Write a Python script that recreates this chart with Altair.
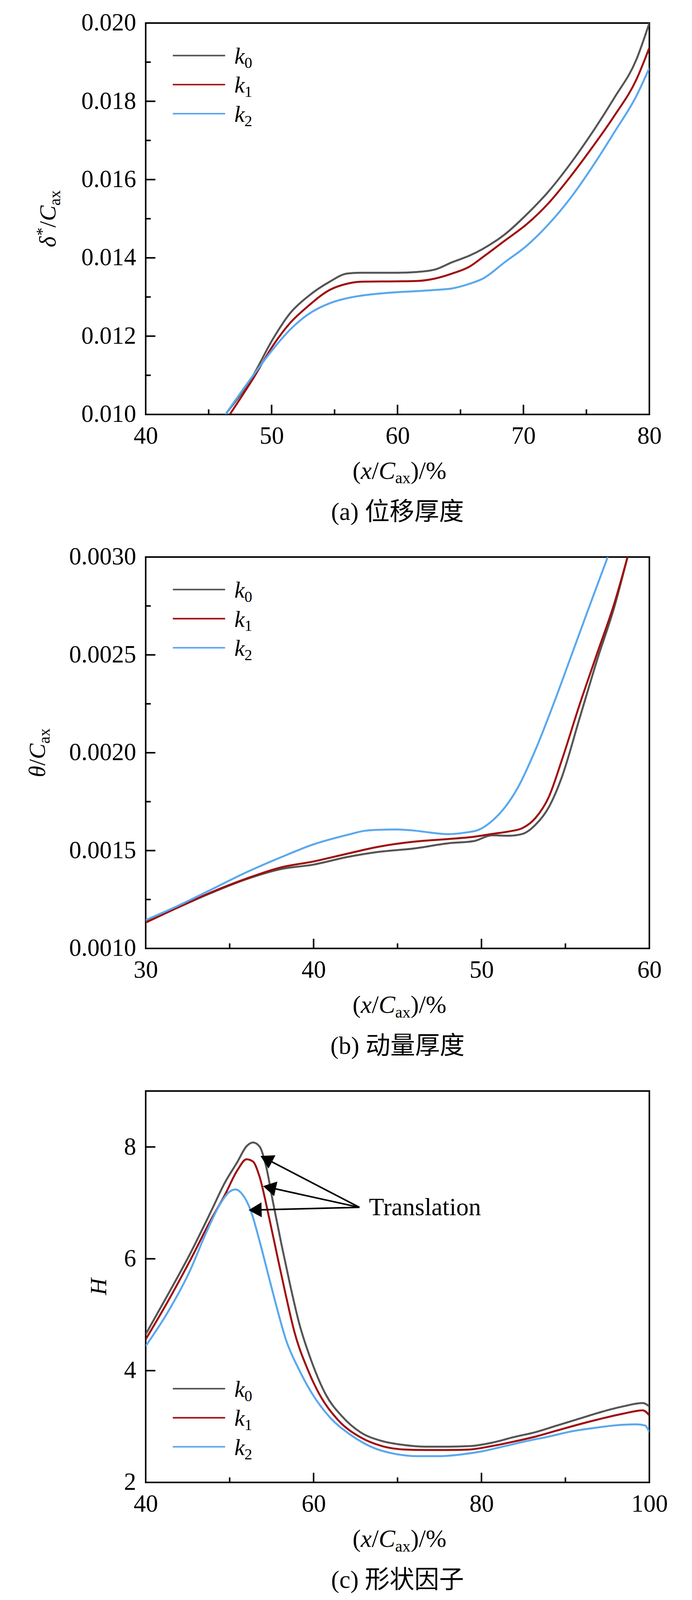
import math
import altair as alt
import pandas as pd

SERIF = "Liberation Serif, Times New Roman, serif"
CJK_FONT = "Liberation Serif, Noto Sans CJK SC"
PW, PH = 1300, 1010
TOP_EXT, BOT_EXT, LEFT_EXT, RIGHT_EXT = 32, 285, 320, 94
GAP = 362  # distance from one plot's bottom edge to the next plot's top edge
XTITLE_OFF, CAPTION_OFF = 166, 272

SERIES = ["k0", "k1", "k2"]
SUBS = ["0", "1", "2"]
COLORS = ["#555555", "#a00e0e", "#5aa8ee"]

# ---------------- panel (a): displacement thickness ----------------
a_k0_x = [46.33, 48.52, 50.09, 51.48, 52.87, 54.61, 56.0, 57.04, 59.83, 61.57, 62.96, 64.35, 65.74, 66.78,
          68.52, 70.26, 72.0, 73.74, 75.48, 77.22, 78.96, 80.0]
a_k0_y = [0.0100, 0.01099, 0.01192, 0.01259, 0.01301, 0.01339, 0.01360, 0.01362, 0.01362, 0.01364, 0.01370,
          0.01389, 0.01406, 0.01423, 0.01460, 0.01511, 0.01570, 0.01641, 0.01721, 0.01809, 0.01906, 0.02000]
a_k1_x = [46.68, 48.52, 50.09, 51.48, 52.87, 54.61, 56.0, 57.04, 59.83, 61.57, 62.96, 64.35, 65.74, 66.78,
          68.52, 70.26, 72.0, 73.74, 75.48, 77.22, 78.96, 80.0]
a_k1_y = [0.0100, 0.01091, 0.01175, 0.01234, 0.01276, 0.01318, 0.01334, 0.01339, 0.01340, 0.01341, 0.01347,
          0.01360, 0.01378, 0.01402, 0.01444, 0.01486, 0.01540, 0.01608, 0.01683, 0.01763, 0.01855, 0.01937]
a_k2_x = [46.33, 48.52, 50.09, 51.48, 52.87, 54.61, 56.0, 57.04, 59.83, 61.57, 62.96, 64.35, 65.74, 66.78,
          68.52, 70.26, 72.0, 73.74, 75.48, 77.22, 78.96, 80.0]
a_k2_y = [0.0100, 0.01099, 0.01166, 0.01217, 0.01255, 0.01284, 0.01297, 0.01303, 0.01312, 0.01315, 0.01318,
          0.01322, 0.01334, 0.01347, 0.01389, 0.01431, 0.01486, 0.01553, 0.01633, 0.01721, 0.01813, 0.01885]

# ---------------- panel (b): momentum thickness ----------------
b_k0_x = [30, 31.83, 33.91, 36.0, 38.09, 39.97, 42.0, 43.83, 45.91, 48.0, 49.57, 50.61, 51.65, 52.44,
          53.22, 54.0, 54.79, 55.83, 56.87, 57.92, 58.70]
b_k0_y = [0.001136, 0.001206, 0.001284, 0.001354, 0.001406, 0.001428, 0.001467, 0.001493, 0.001510,
          0.001537, 0.001549, 0.001578, 0.001576, 0.001585, 0.001632, 0.001720, 0.001876, 0.002172,
          0.002469, 0.002747, 0.003000]
b_k1_x = [30, 31.83, 33.91, 36.0, 38.09, 39.97, 42.0, 43.83, 45.91, 48.0, 49.57, 50.61, 51.65, 52.44,
          53.22, 54.0, 54.79, 55.83, 56.87, 57.92, 58.70]
b_k1_y = [0.001132, 0.001206, 0.001287, 0.001357, 0.001415, 0.001444, 0.001484, 0.001519, 0.001545,
          0.001559, 0.001571, 0.001585, 0.001598, 0.001615, 0.001667, 0.001772, 0.001963, 0.002242,
          0.002503, 0.002765, 0.003000]
b_k2_x = [30, 31.83, 33.91, 36.0, 38.09, 39.97, 42.0, 43.04, 43.83, 44.87, 45.91, 46.96, 48.0, 49.04,
          49.83, 50.61, 51.39, 52.18, 53.22, 54.26, 55.31, 56.35, 57.52]
b_k2_y = [0.001145, 0.001214, 0.001301, 0.001389, 0.001467, 0.001531, 0.001580, 0.001601, 0.001606,
          0.001608, 0.001603, 0.001592, 0.001584, 0.001592, 0.001606, 0.001650, 0.001720, 0.001824,
          0.002016, 0.002242, 0.002486, 0.002730, 0.003000]

# ---------------- panel (c): shape factor ----------------
c_k0_x = [40, 42.61, 45.22, 47.82, 49.39, 50.95, 52.0, 52.78, 53.56, 54.35, 55.13, 56.17, 57.21, 58.26,
          59.82, 61.39, 63.47, 65.56, 68.17, 70.78, 73.39, 75.99, 78.60, 81.21, 83.82, 86.43, 89.03,
          91.64, 94.25, 96.86, 99.22, 100]
c_k0_y = [4.65, 5.35, 6.07, 6.86, 7.35, 7.74, 8.01, 8.08, 8.01, 7.65, 7.04, 6.26, 5.53, 4.86, 4.14, 3.59,
          3.17, 2.90, 2.74, 2.67, 2.64, 2.64, 2.65, 2.71, 2.81, 2.90, 3.02, 3.14, 3.26, 3.36, 3.42, 3.36]
c_k1_x = [40, 42.61, 45.22, 47.82, 49.39, 50.95, 52.0, 52.78, 53.56, 54.61, 55.65, 56.69, 57.74, 59.30,
          60.87, 62.95, 65.56, 68.17, 70.78, 73.39, 75.99, 78.60, 81.21, 83.82, 86.43, 89.03, 91.64,
          94.25, 96.86, 99.22, 100]
c_k1_y = [4.56, 5.23, 5.95, 6.71, 7.13, 7.59, 7.78, 7.74, 7.47, 6.80, 6.07, 5.35, 4.68, 4.02, 3.53, 3.11,
          2.81, 2.65, 2.59, 2.58, 2.58, 2.59, 2.65, 2.73, 2.82, 2.93, 3.04, 3.14, 3.23, 3.29, 3.20]
c_k2_x = [40, 42.61, 45.22, 47.30, 48.87, 49.91, 50.69, 51.48, 52.52, 53.56, 54.61, 55.65, 56.69, 58.26,
          59.82, 61.91, 64.52, 67.13, 69.73, 72.34, 74.95, 77.56, 80.17, 82.78, 85.38, 87.99, 90.60,
          93.21, 95.82, 98.43, 99.47, 100]
c_k2_y = [4.44, 5.04, 5.77, 6.50, 6.98, 7.19, 7.24, 7.16, 6.86, 6.32, 5.71, 5.11, 4.56, 4.02, 3.59, 3.17,
          2.84, 2.62, 2.51, 2.47, 2.47, 2.50, 2.56, 2.65, 2.74, 2.82, 2.91, 2.97, 3.02, 3.04, 3.02, 2.90]

# annotation arrows (panel c)
ARROW_TAIL_X = 65.46
ARROW_TAIL_Y = 6.92
ARROW_TIP_X = [53.67, 53.98, 52.26]
ARROW_TIP_Y = [7.84, 7.30, 6.87]
ANNOT_TEXT = "Translation"
ANNOT_X = 66.6
ANNOT_Y = 6.78

ONE = pd.DataFrame({"a": [1]})

ADV = {"(": .333, ")": .333, "/": .278, "%": .833, "C": .667, "a": .444, "x": .5,
       "δ": .5, "θ": .5, "*": .5, "H": .722, "k": .444}


def tw(text, size, italic):
    w = 0
    for ch in text:
        v = ADV.get(ch, .5)
        if italic and ch == "x":
            v = .444
        w += v
    return w * size


def txt(text, x, y, size, italic=False, angle=0, align="left", font=SERIF):
    return alt.Chart(ONE).mark_text(
        text=text, font=font, fontSize=size, fontStyle="italic" if italic else "normal",
        align=align, baseline="alphabetic", angle=angle, color="black"
    ).encode(x=alt.value(x), y=alt.value(y))


def rich(pieces, cx, cy, rotate=False):
    widths = [tw(t, s, it) for t, s, it, sh in pieces]
    total = sum(widths)
    out = []
    cum = 0.0
    for (t, s, it, sh), w in zip(pieces, widths):
        if rotate:
            out.append(txt(t, cx + sh, cy + total / 2 - cum, s, it, angle=270))
        else:
            out.append(txt(t, cx - total / 2 + cum, cy + sh, s, it))
        cum += w
    return out


AX_COMMON = dict(ticks=False, tickSize=0, domain=False, grid=False, labelFont=SERIF,
                 labelFontSize=63, labelColor="black", labelPadding=25, title=None,
                 labelOverlap=False, labelFlush=False, labelLimit=400)


def make_axis(vals, fmt):
    return alt.Axis(values=vals, format=fmt, **AX_COMMON)


def lines_layer(xs_list, ys_list, xs, ys, xax, yax):
    rows = []
    for name, xx, yy in zip(SERIES, xs_list, ys_list):
        for a, b in zip(xx, yy):
            rows.append({"series": name, "x": a, "y": b})
    df = pd.DataFrame(rows)
    return alt.Chart(df).mark_line(interpolate="monotone", strokeWidth=5, clip=True).encode(
        x=alt.X("x:Q", scale=xs, axis=xax),
        y=alt.Y("y:Q", scale=ys, axis=yax),
        color=alt.Color("series:N", scale=alt.Scale(domain=SERIES, range=COLORS), legend=None),
    )


def yticks(vals, length, ys, yax):
    return alt.Chart(pd.DataFrame({"v": vals})).mark_rule(color="black", strokeWidth=4).encode(
        y=alt.Y("v:Q", scale=ys, axis=yax), x=alt.value(0), x2=alt.value(length))


def xticks(vals, length, xs, xax):
    return alt.Chart(pd.DataFrame({"v": vals})).mark_rule(color="black", strokeWidth=4).encode(
        x=alt.X("v:Q", scale=xs, axis=xax), y=alt.value(PH), y2=alt.value(PH - length))


def legend_layers(top):
    out = []
    for i, (c, s) in enumerate(zip(COLORS, SUBS)):
        ly = top + 75 * i
        out.append(alt.Chart(ONE).mark_rule(color=c, strokeWidth=4).encode(
            x=alt.value(70), x2=alt.value(205), y=alt.value(ly)))
        out.append(txt("k", 229, ly + 21, 60, italic=True))
        out.append(txt(s, 255, ly + 32, 40))
    return out


def frame_extent():
    # white (invisible) guides that give every panel the same outer extent,
    # so the stacked plot areas line up
    out = []
    for xv in (-LEFT_EXT, PW + RIGHT_EXT):
        out.append(alt.Chart(ONE).mark_rule(color="white", strokeWidth=1).encode(
            x=alt.value(xv), y=alt.value(-TOP_EXT), y2=alt.value(PH + BOT_EXT)))
    return out


def xtitle_layers():
    pieces = [("(", 64, False, 0), ("x", 64, True, 0), ("/", 64, False, 0), ("C", 64, True, 0),
              ("ax", 42, False, 12), (")/%", 64, False, 0)]
    return rich(pieces, PW / 2 + 5, PH + XTITLE_OFF)


def caption(text):
    return txt(text, PW / 2, PH + CAPTION_OFF, 64, align="center", font=CJK_FONT)


# ---------- panel a ----------
xa = alt.Scale(domain=[40, 80], nice=False, zero=False)
ya = alt.Scale(domain=[0.010, 0.020], nice=False, zero=False)
xa_ax = make_axis([40, 50, 60, 70, 80], "d")
ya_ax = make_axis([0.010, 0.012, 0.014, 0.016, 0.018, 0.020], ".3f")
pa_layers = frame_extent() + [
    lines_layer([a_k0_x, a_k1_x, a_k2_x], [a_k0_y, a_k1_y, a_k2_y], xa, ya, xa_ax, ya_ax),
    yticks([0.012, 0.014, 0.016, 0.018], 25, ya, ya_ax),
    yticks([0.011, 0.013, 0.015, 0.017, 0.019], 13, ya, ya_ax),
    xticks([50, 60, 70], 25, xa, xa_ax),
    xticks([45, 55, 65, 75], 13, xa, xa_ax),
] + legend_layers(84) + xtitle_layers() + [caption("(a) 位移厚度")] + rich(
    [("δ", 60, True, 0), ("*", 42, False, -20), ("/", 60, False, 0), ("C", 60, True, 0),
     ("ax", 42, False, 12)], -233, PH / 2, rotate=True)
pa = alt.layer(*pa_layers).properties(width=PW, height=PH)

# ---------- panel b ----------
xb = alt.Scale(domain=[30, 60], nice=False, zero=False)
yb = alt.Scale(domain=[0.0010, 0.0030], nice=False, zero=False)
xb_ax = make_axis([30, 40, 50, 60], "d")
yb_ax = make_axis([0.0010, 0.0015, 0.0020, 0.0025, 0.0030], ".4f")
pb_layers = frame_extent() + [
    lines_layer([b_k0_x, b_k1_x, b_k2_x], [b_k0_y, b_k1_y, b_k2_y], xb, yb, xb_ax, yb_ax),
    yticks([0.0015, 0.0020, 0.0025], 25, yb, yb_ax),
    yticks([0.00125, 0.00175, 0.00225, 0.00275], 13, yb, yb_ax),
    xticks([40, 50], 25, xb, xb_ax),
    xticks([35, 45, 55], 13, xb, xb_ax),
] + legend_layers(84) + xtitle_layers() + [caption("(b) 动量厚度")] + rich(
    [("θ", 60, True, 0), ("/", 60, False, 0), ("C", 60, True, 0), ("ax", 42, False, 12)],
    -260, PH / 2, rotate=True)
pb = alt.layer(*pb_layers).properties(width=PW, height=PH)

# ---------- panel c ----------
XC0, XC1, YC0, YC1 = 40, 100, 2, 9
xc = alt.Scale(domain=[XC0, XC1], nice=False, zero=False)
yc = alt.Scale(domain=[YC0, YC1], nice=False, zero=False)
xc_ax = make_axis([40, 60, 80, 100], "d")
yc_ax = make_axis([2, 4, 6, 8], "d")


def to_px(x, y):
    return (x - XC0) / (XC1 - XC0) * PW, (YC1 - y) / (YC1 - YC0) * PH


def to_data(px, py):
    return XC0 + px / PW * (XC1 - XC0), YC1 - py / PH * (YC1 - YC0)


HEAD_SIZE = 1500
head_h = math.sqrt(3) / 2 * math.sqrt(HEAD_SIZE) / 2
arrow_rows, head_rows = [], []
tx, ty = to_px(ARROW_TAIL_X, ARROW_TAIL_Y)
for hx_d, hy_d in zip(ARROW_TIP_X, ARROW_TIP_Y):
    hx, hy = to_px(hx_d, hy_d)
    dx, dy = hx - tx, hy - ty
    L = math.hypot(dx, dy)
    ux, uy = dx / L, dy / L
    cx, cy = to_data(hx - ux * head_h, hy - uy * head_h)
    ang = math.degrees(math.atan2(dx, -dy)) % 360
    arrow_rows.append({"x": ARROW_TAIL_X, "y": ARROW_TAIL_Y, "x2": cx, "y2": cy})
    head_rows.append({"x": cx, "y": cy, "ang": ang})

arrows = alt.Chart(pd.DataFrame(arrow_rows)).mark_rule(color="black", strokeWidth=4).encode(
    x=alt.X("x:Q", scale=xc, axis=xc_ax), y=alt.Y("y:Q", scale=yc, axis=yc_ax), x2="x2:Q", y2="y2:Q")
heads = alt.Chart(pd.DataFrame(head_rows)).mark_point(
    shape="triangle-up", filled=True, size=HEAD_SIZE, color="black", opacity=1, strokeWidth=0
).encode(x=alt.X("x:Q", scale=xc, axis=xc_ax), y=alt.Y("y:Q", scale=yc, axis=yc_ax),
         angle=alt.Angle("ang:Q", scale=None))
annot = alt.Chart(pd.DataFrame({"x": [ANNOT_X], "y": [ANNOT_Y], "t": [ANNOT_TEXT]})).mark_text(
    font=SERIF, fontSize=64, align="left", baseline="alphabetic", color="black"
).encode(x=alt.X("x:Q", scale=xc, axis=xc_ax), y=alt.Y("y:Q", scale=yc, axis=yc_ax), text="t:N")

pc_layers = frame_extent() + [
    lines_layer([c_k0_x, c_k1_x, c_k2_x], [c_k0_y, c_k1_y, c_k2_y], xc, yc, xc_ax, yc_ax),
    yticks([4, 6, 8], 25, yc, yc_ax),
    xticks([60, 80], 25, xc, xc_ax),
    xticks([50, 70, 90], 13, xc, xc_ax),
    arrows, heads, annot,
] + legend_layers(PH - 242) + xtitle_layers() + [caption("(c) 形状因子")] + rich(
    [("H", 60, True, 0)], -102, PH / 2, rotate=True)
pc = alt.layer(*pc_layers).properties(width=PW, height=PH)

chart = alt.vconcat(pa, pb, pc, spacing=GAP - BOT_EXT - TOP_EXT).properties(
    padding={"left": 45, "top": 0, "right": 5, "bottom": 0},
    background="white",
).configure_view(
    stroke="black", strokeWidth=4
).configure_axis(
    labelFont=SERIF, labelFontSize=63, labelColor="black", labelPadding=25,
    ticks=False, domain=False, grid=False
)

chart.save("out.html", embed_options={"renderer": "svg", "actions": False})
